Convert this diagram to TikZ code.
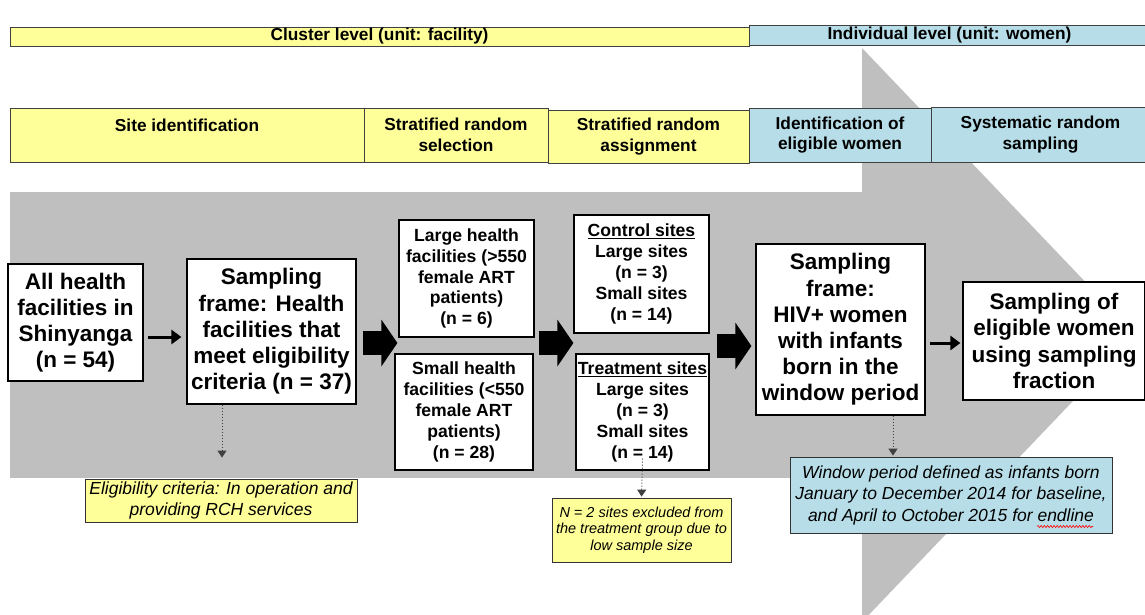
\documentclass[tikz,border=0pt]{standalone}
\usepackage{fontspec}
\setmainfont{Liberation Sans}
\usetikzlibrary{arrows.meta,decorations.pathmorphing}
\definecolor{hdryellow}{HTML}{FFFF99}
\definecolor{hdrblue}{HTML}{B7DEE8}
\definecolor{bggray}{HTML}{BFBFBF}
\begin{document}
\begin{tikzpicture}[x=1pt,y=-1pt,
  hdr/.style={draw=black!75, line width=0.8pt, inner sep=0pt, align=center,
    font={\fontsize{17.3}{20.5}\selectfont\bfseries}},
  hy/.style={hdr, fill=hdryellow},
  hb/.style={hdr, fill=hdrblue},
  bigbox/.style={draw=black, line width=1.2pt, fill=white, inner sep=0pt, align=center,
    font={\fontsize{22.5}{26.2}\selectfont\bfseries}},
  midbox/.style={draw=black, line width=1.2pt, fill=white, inner sep=0pt, align=center,
    font={\fontsize{17.6}{20.8}\selectfont\bfseries}},
  note/.style={draw=black!80, line width=0.8pt, inner sep=0pt, align=center,
    font={\fontsize{17.5}{21.5}\selectfont\itshape}},
  smallnote/.style={draw=black!80, line width=0.8pt, inner sep=0pt, align=center, fill=hdryellow,
    font={\fontsize{14.5}{16.7}\selectfont\itshape}},
  thinarrow/.style={line width=3pt, -{Triangle[length=10pt 0,width=14pt 0]}},
  blockarrow/.style={line width=24pt, -{Triangle[length=16pt 0,width=46pt 0]}},
  dotarrow/.style={black!75, line width=1pt, dotted, -{Triangle[length=7pt 0,width=9pt 0]}},
  spellwave/.style={red, line width=0.6pt, decorate, decoration={snake, amplitude=1.1pt, segment length=3.2pt}}
]
\useasboundingbox (0,0) rectangle (1145,614);
% big gray arrow
\fill[bggray] (10,192) rectangle (862,478);
\fill[bggray] (862,48) -- (1136,335) -- (862,622) -- cycle;

% header row 1
\node[hy, minimum width=739pt, minimum height=19pt] (clus) at (379.5,36.5) {Cluster level (unit: facility)};
\node[hb, minimum width=401pt, minimum height=20pt] (indiv) at (949.5,35) {Individual level (unit: women)};

% header row 2
\node[hy, minimum width=354pt, minimum height=54pt] (site) at (187,135) {Site identification\\\mbox{}};
\node[hy, minimum width=184pt, minimum height=54pt] (strsel) at (456,135) {Stratified random\\selection};
\node[hy, minimum width=201pt, minimum height=53pt] (strass) at (648.5,136.5) {Stratified random\\assignment};
\node[hb, minimum width=182pt, minimum height=54pt] (ident) at (840,135) {Identification of\\eligible women};
\node[hb, minimum width=219pt, minimum height=55pt] (syst) at (1040.5,134.5) {Systematic random\\sampling};

% main boxes
\node[bigbox, minimum width=135pt, minimum height=117pt] (b1) at (75.5,322.5) {All health\\facilities in\\Shinyanga\\(n = 54)};
\node[bigbox, minimum width=169pt, minimum height=145pt] (b2) at (271.5,331.5) {Sampling\\frame: Health\\facilities that\\meet eligibility\\criteria (n = 37)};
\node[midbox, minimum width=135pt, minimum height=117pt] (b3) at (466.5,278.5) {Large health\\facilities (>550\\female ART\\patients)\\(n = 6)};
\node[midbox, minimum width=138pt, minimum height=116pt] (b4) at (464,412) {Small health\\facilities (<550\\female ART\\patients)\\(n = 28)};
\node[midbox, minimum width=135pt, minimum height=118pt] (b5) at (641.5,274) {\underline{Control sites}\\Large sites\\(n = 3)\\Small sites\\(n = 14)};
\node[midbox, minimum width=133pt, minimum height=116pt] (b6) at (642.5,412) {\underline{Treatment sites}\\Large sites\\(n = 3)\\Small sites\\(n = 14)};
\node[bigbox, minimum width=169pt, minimum height=171pt] (b7) at (840.5,329.5) {Sampling\\frame:\\HIV+ women\\with infants\\born in the\\window period};
\node[bigbox, minimum width=182pt, minimum height=118pt] (b8) at (1054,341) {Sampling of\\eligible women\\using sampling\\fraction};

% notes
\node[note, fill=hdryellow, minimum width=272pt, minimum height=43pt] (elig) at (221,500.5) {Eligibility criteria: In operation and\\providing RCH services};
\node[smallnote, minimum width=179pt, minimum height=64pt] (excl) at (641.5,530) {N = 2 sites excluded from\\the treatment group due to\\low sample size};
\node[note, fill=hdrblue, minimum width=322pt, minimum height=76pt] (win) at (951,495) {Window period defined as infants born\\January to December 2014 for baseline,\\and April to October 2015 for endline};
\draw[spellwave] ([xshift=86pt,yshift=-31.5pt]win.center) -- ++(56,0);

% connectors
\draw[thinarrow, shorten <=4pt, shorten >=5pt] (b1.east |- 0,337) -- (b2.west |- 0,337);
\draw[blockarrow, shorten <=6pt, shorten >=1pt] (b2.east |- 0,343) -- (b3.west |- 0,343);
\draw[blockarrow, shorten <=4pt, shorten >=0pt] (b3.east |- 0,343) -- (b5.west |- 0,343);
\draw[blockarrow, shorten <=7pt, shorten >=4pt] (b6.east |- 0,346) -- (b7.west |- 0,346);
\draw[thinarrow, shorten <=4pt, shorten >=2pt] (b7.east |- 0,343) -- (b8.west |- 0,343);

\draw[dotarrow, shorten >=21pt] (222,0 |- b2.south) -- (222,0 |- elig.north);
\draw[dotarrow, shorten >=1pt] ([yshift=12pt]b6.south) -- (excl.north);
\draw[dotarrow, shorten >=1pt] (893,0 |- b7.south) -- (893,0 |- win.north);
\end{tikzpicture}
\end{document}
